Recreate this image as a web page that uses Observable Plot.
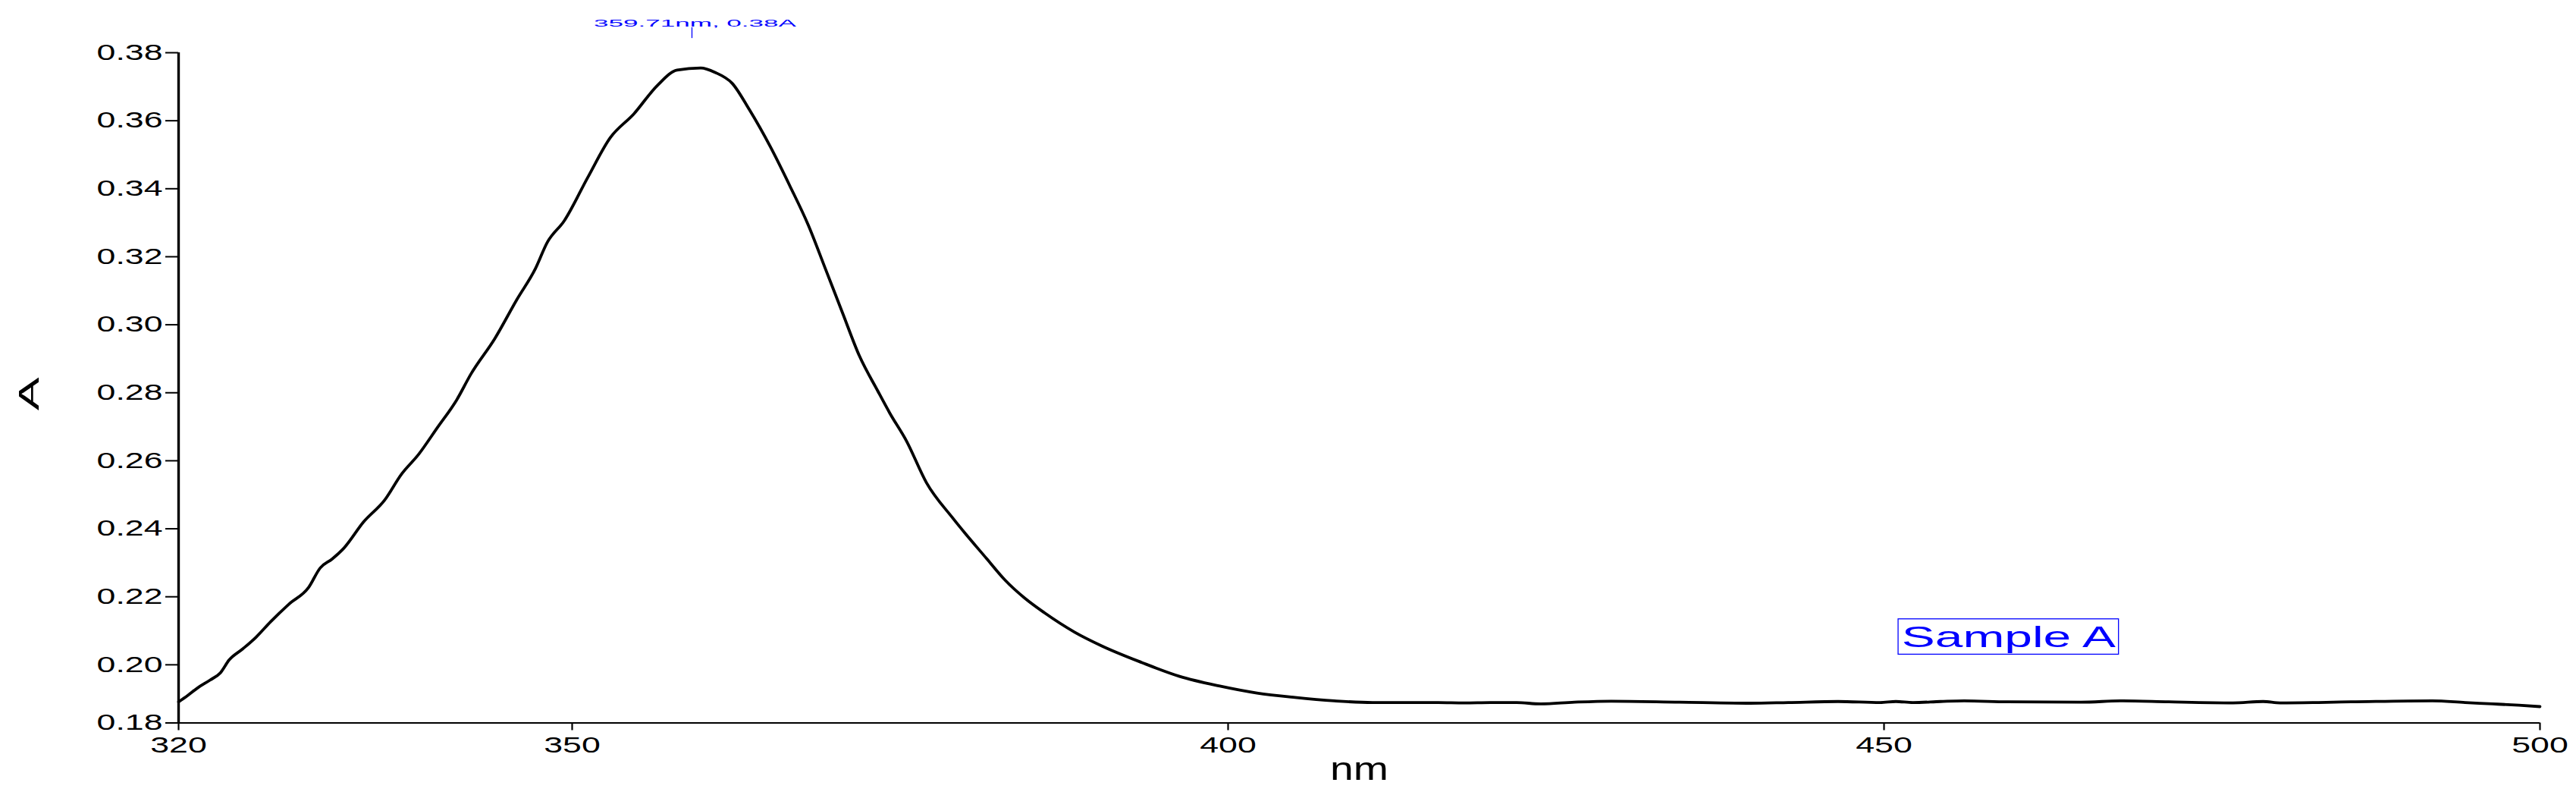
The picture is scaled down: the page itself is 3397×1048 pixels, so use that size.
<!DOCTYPE html>
<html>
<head>
<meta charset="utf-8">
<script src="https://cdn.jsdelivr.net/npm/d3@7"></script>
<script src="https://cdn.jsdelivr.net/npm/@observablehq/plot@0.6"></script>
<style>
  html, body { margin: 0; padding: 0; background: #fff; }
  #chart { width: 3397px; height: 1048px; overflow: hidden; }
</style>
</head>
<body>
<div id="chart"></div>
<script>
// ---- data ----
const wavelength = [
  320.0, 320.7, 321.45, 322.4, 323.2, 323.85, 324.9, 325.9, 327.0, 328.4,
  329.9, 330.8, 331.7, 332.6, 334.1, 335.7, 337.0, 338.3, 339.7, 341.2,
  342.3, 344.1, 345.8, 347.2, 348.1, 349.4, 351.2, 352.9, 354.7, 356.5,
  358.0, 359.8, 360.9, 362.2, 363.5, 365.1, 366.6, 368.0, 369.3, 370.6,
  371.9, 373.3, 374.2, 375.5, 377.0, 379.0, 381.6, 383.0, 384.5, 386.0,
  388.3, 390.4, 393.4, 396.3, 399.3, 402.2, 405.1, 408.1, 411.0, 413.0,
  416.0, 418.0, 420.0, 422.0, 423.8, 426.4, 429.2, 434.4, 439.8, 442.7,
  446.5, 449.7, 450.9, 452.2, 454.3, 456.1, 459.4, 465.0, 468.2, 471.7,
  476.6, 478.9, 480.2, 485.6, 491.8, 494.3, 496.4, 498.4, 500.0
];
const absorbance = [
  0.1891, 0.1910, 0.1932, 0.1955, 0.1977, 0.2014, 0.2047, 0.2081, 0.2126, 0.2178,
  0.2227, 0.2285, 0.2311, 0.2343, 0.2420, 0.2484, 0.2561, 0.2619, 0.2696, 0.2779,
  0.2856, 0.2959, 0.3075, 0.3165, 0.3242, 0.3306, 0.3434, 0.3550, 0.3620, 0.3704,
  0.3749, 0.3755, 0.3742, 0.3710, 0.3633, 0.3524, 0.3408, 0.3293, 0.3165, 0.3036,
  0.2908, 0.2805, 0.2741, 0.2657, 0.2536, 0.2432, 0.2312, 0.2249, 0.2196, 0.2153,
  0.2096, 0.2055, 0.2007, 0.1966, 0.1938, 0.1917, 0.1904, 0.1894, 0.1889, 0.1889,
  0.1889, 0.1888, 0.1889, 0.1889, 0.1885, 0.1890, 0.1893, 0.1890, 0.1887, 0.1889,
  0.1892, 0.1889, 0.1892, 0.1889, 0.1892, 0.1894, 0.1891, 0.1890, 0.1894, 0.1891,
  0.1888, 0.1892, 0.1888, 0.1891, 0.1894, 0.1889, 0.1885, 0.1881, 0.1877
];

const xDomain = [320, 500];
const yDomain = [0.1829, 0.38];
const xTicks = [320, 350, 400, 450, 500];
const yTicks = [0.1829, 0.20, 0.22, 0.24, 0.26, 0.28, 0.30, 0.32, 0.34, 0.36, 0.38];
const yTickLabels = ["0.18", "0.20", "0.22", "0.24", "0.26", "0.28", "0.30", "0.32", "0.34", "0.36", "0.38"];
const xTitle = "nm";
const yTitle = "A";

const peakNm = 359.71;
const peakLabel = "359.71nm, 0.38A";
const sampleLabel = "Sample A";

// ---- build ----
const data = wavelength.map((w, i) => ({ nm: w, A: absorbance[i] }));
const yLabelMap = new Map(yTicks.map((t, i) => [t, yTickLabels[i]]));
const BLUE = "#0000ff";

const chart = Plot.plot({
  width: 3397,
  height: 1048,
  marginLeft: 235,
  marginRight: 48,
  marginTop: 69,
  marginBottom: 95.5,
  style: { fontFamily: "'Liberation Sans', Arial, sans-serif", background: "#fff", color: "#000", overflow: "visible" },
  x: { domain: xDomain },
  y: { domain: yDomain },
  marks: [
    Plot.axisY({ ticks: yTicks, tickFormat: d => yLabelMap.get(d), tickSize: 17, tickPadding: 4,
                 fontSize: 29, label: null, strokeWidth: 2, stroke: "#000", fill: "#000" }),
    Plot.axisX({ ticks: xTicks, tickFormat: d => String(d), tickSize: 10, tickPadding: 8,
                 fontSize: 29, label: null, strokeWidth: 2.2, stroke: "#000", fill: "#000" }),
    Plot.ruleY([yDomain[0]], { stroke: "#000", strokeWidth: 2.2 }),
    Plot.ruleX([xDomain[0]], { y1: yDomain[0], y2: yDomain[1], stroke: "#000", strokeWidth: 3.4 }),
    Plot.line(data, { x: "nm", y: "A", stroke: "#000", strokeWidth: 3.8, curve: "monotone-x" }),
    // peak annotation
    Plot.ruleX([peakNm], { y1: 0.3842, y2: 0.3874, dx: -10, stroke: BLUE, strokeWidth: 1.3 }),
    Plot.text([peakLabel], { x: peakNm, y: 0.3885, dx: -6, text: d => d, fill: BLUE, fontSize: 12 }),
    // sample label box
    Plot.rect([sampleLabel], { x1: 451.1, x2: 467.9, y1: 0.2030, y2: 0.2134, fill: "none", stroke: BLUE, strokeWidth: 1.3 }),
    Plot.text([sampleLabel], { x: 459.5, y: 0.2082, dy: 1, text: d => d, fill: BLUE, fontSize: 39 }),
    // axis titles
    Plot.text([xTitle], { frameAnchor: "bottom", dy: 75, text: d => d, fontSize: 42, fill: "#000" }),
    Plot.text([yTitle], { frameAnchor: "left", dx: -196, dy: 30, rotate: -90, text: d => d, fontSize: 36, fill: "#000" })
  ]
});

document.getElementById("chart").appendChild(chart);

// horizontal stretching of the reference's glyphs
const stretch = new Map([
  [peakLabel, { len: 267 }],
  [sampleLabel, { len: 282 }],
  [xTitle, { f: 1.32 }],
  [yTitle, { len: 44 }]
]);
chart.querySelectorAll("text").forEach(t => {
  const s = t.textContent;
  const natural = t.getComputedTextLength();
  let target;
  if (stretch.has(s)) {
    const o = stretch.get(s);
    target = o.len ? o.len : natural * o.f;
  } else {
    target = natural * 1.54;
  }
  t.setAttribute("textLength", target.toFixed(1));
  t.setAttribute("lengthAdjust", "spacingAndGlyphs");
});
</script>
</body>
</html>
